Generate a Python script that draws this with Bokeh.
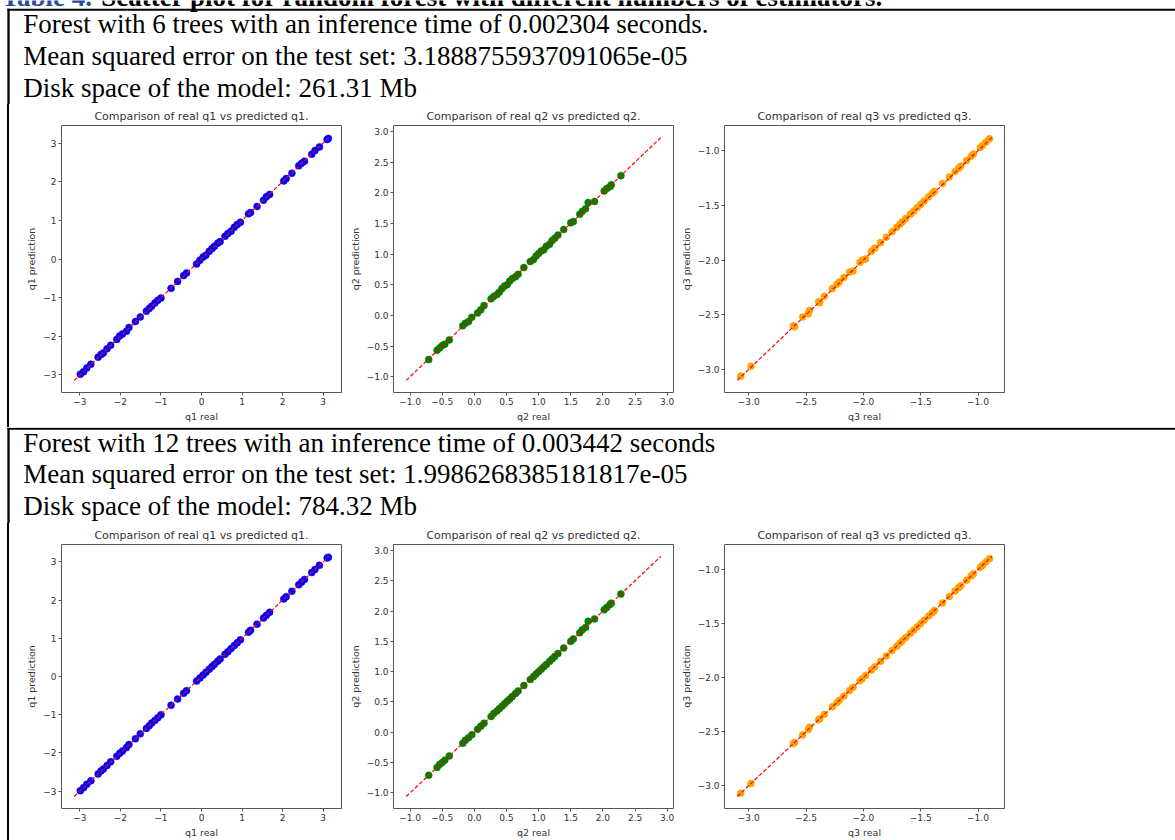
from bokeh.plotting import figure
from bokeh.layouts import column, row
from bokeh.models import Range1d, FixedTicker, CustomJSTickFormatter, Spacer
from bokeh.core.properties import value
from bokeh.embed import file_html
from bokeh.resources import INLINE

# ---------------- data ----------------
caption_label = "Table 4."
caption_text = "Scatter plot for random forest with different numbers of estimators."
row_texts = [
    ["Forest with 6 trees with an inference time of 0.002304 seconds.",
     "Mean squared error on the test set: 3.1888755937091065e-05",
     "Disk space of the model: 261.31 Mb"],
    ["Forest with 12 trees with an inference time of 0.003442 seconds",
     "Mean squared error on the test set: 1.9986268385181817e-05",
     "Disk space of the model: 784.32 Mb"],
]
targets = ["q1", "q2", "q3"]
colors = ["blue", "green", "orange"]

q1_real = [-2.99, -2.91, -2.83, -2.73, -2.55, -2.48, -2.42, -2.33, -2.24, -2.09, -2.02, -1.95,
           -1.85, -1.79, -1.63, -1.51, -1.36, -1.29, -1.23, -1.15, -1.08, -1.00, -0.75, -0.59,
           -0.44, -0.37, -0.12, -0.04, 0.04, 0.11, 0.19, 0.26, 0.32, 0.40, 0.46, 0.58, 0.65,
           0.73, 0.81, 0.88, 0.96, 1.16, 1.21, 1.37, 1.53, 1.60, 1.68, 2.03, 2.09, 2.23, 2.40,
           2.47, 2.54, 2.72, 2.80, 2.91, 3.10, 3.13]
q1_pred_6 = [-2.98, -2.92, -2.82, -2.72, -2.54, -2.47, -2.43, -2.32, -2.23, -2.08, -1.99, -1.94,
             -1.87, -1.77, -1.62, -1.50, -1.35, -1.28, -1.22, -1.14, -1.07, -1.01, -0.76, -0.58,
             -0.43, -0.36, -0.13, -0.03, 0.05, 0.10, 0.20, 0.27, 0.33, 0.41, 0.45, 0.59, 0.66,
             0.72, 0.82, 0.89, 0.95, 1.17, 1.20, 1.36, 1.52, 1.61, 1.67, 2.02, 2.08, 2.22, 2.41,
             2.48, 2.53, 2.71, 2.81, 2.90, 3.09, 3.12]
q1_pred_12 = [-2.99, -2.91, -2.82, -2.73, -2.55, -2.47, -2.42, -2.33, -2.23, -2.09, -2.01, -1.95,
              -1.86, -1.78, -1.63, -1.50, -1.36, -1.29, -1.22, -1.15, -1.08, -1.00, -0.75, -0.59,
              -0.44, -0.37, -0.12, -0.04, 0.04, 0.11, 0.19, 0.26, 0.32, 0.40, 0.46, 0.58, 0.65,
              0.73, 0.81, 0.88, 0.96, 1.16, 1.21, 1.37, 1.53, 1.60, 1.68, 2.03, 2.09, 2.23, 2.40,
              2.47, 2.54, 2.72, 2.80, 2.91, 3.10, 3.12]
q1_line = [-3.14, 3.14]

q2_real = [-0.71, -0.58, -0.54, -0.50, -0.46, -0.39, -0.18, -0.14, -0.09, -0.04, 0.05, 0.10,
           0.15, 0.26, 0.30, 0.35, 0.39, 0.43, 0.47, 0.51, 0.55, 0.59, 0.64, 0.68, 0.77, 0.87,
           0.92, 0.96, 1.00, 1.04, 1.08, 1.12, 1.17, 1.21, 1.25, 1.30, 1.39, 1.50, 1.54, 1.64,
           1.68, 1.73, 1.77, 1.87, 2.02, 2.06, 2.11, 2.13, 2.28]
q2_pred_6 = [-0.72, -0.57, -0.53, -0.49, -0.47, -0.40, -0.17, -0.13, -0.10, -0.03, 0.04, 0.09,
             0.16, 0.27, 0.31, 0.34, 0.38, 0.44, 0.48, 0.50, 0.56, 0.60, 0.63, 0.67, 0.78, 0.88,
             0.91, 0.97, 1.01, 1.05, 1.07, 1.13, 1.16, 1.22, 1.26, 1.31, 1.40, 1.51, 1.53, 1.65,
             1.70, 1.74, 1.84, 1.86, 2.03, 2.07, 2.10, 2.13, 2.28]
q2_pred_12 = [-0.71, -0.58, -0.53, -0.50, -0.46, -0.39, -0.18, -0.13, -0.09, -0.04, 0.05, 0.10,
              0.15, 0.26, 0.31, 0.35, 0.39, 0.43, 0.47, 0.51, 0.55, 0.59, 0.64, 0.68, 0.77, 0.87,
              0.92, 0.96, 1.00, 1.04, 1.08, 1.12, 1.17, 1.21, 1.25, 1.30, 1.39, 1.50, 1.54, 1.64,
              1.69, 1.73, 1.83, 1.87, 2.02, 2.06, 2.11, 2.13, 2.28]
q2_line = [-1.06, 2.90]

q3_real = [-3.07, -2.98, -2.61, -2.60, -2.53, -2.48, -2.47, -2.39, -2.38, -2.34, -2.27, -2.23,
           -2.21, -2.17, -2.12, -2.09, -2.03, -2.01, -1.98, -1.93, -1.90, -1.85, -1.80, -1.75,
           -1.71, -1.68, -1.66, -1.63, -1.59, -1.56, -1.53, -1.50, -1.47, -1.43, -1.40, -1.38,
           -1.31, -1.25, -1.20, -1.17, -1.15, -1.10, -1.06, -1.04, -0.98, -0.96, -0.93, -0.90]
q3_pred_6 = [-3.06, -2.97, -2.60, -2.61, -2.52, -2.49, -2.46, -2.38, -2.39, -2.33, -2.26, -2.22,
             -2.20, -2.16, -2.11, -2.10, -2.02, -2.00, -1.99, -1.92, -1.89, -1.84, -1.79, -1.74,
             -1.70, -1.67, -1.65, -1.62, -1.58, -1.55, -1.52, -1.49, -1.46, -1.42, -1.39, -1.37,
             -1.30, -1.24, -1.19, -1.16, -1.14, -1.09, -1.05, -1.03, -0.97, -0.95, -0.92, -0.89]
q3_pred_12 = [-3.07, -2.98, -2.61, -2.60, -2.53, -2.48, -2.46, -2.39, -2.38, -2.34, -2.27, -2.23,
              -2.21, -2.17, -2.12, -2.09, -2.03, -2.01, -1.98, -1.93, -1.90, -1.85, -1.80, -1.75,
              -1.71, -1.68, -1.66, -1.63, -1.59, -1.56, -1.53, -1.50, -1.47, -1.43, -1.40, -1.38,
              -1.31, -1.25, -1.20, -1.17, -1.15, -1.10, -1.06, -1.04, -0.98, -0.96, -0.93, -0.90]
q3_line = [-3.10, -0.88]

q1_ticks = [-3, -2, -1, 0, 1, 2, 3]
q2_ticks = [-1.0, -0.5, 0.0, 0.5, 1.0, 1.5, 2.0, 2.5, 3.0]
q3_ticks = [-3.0, -2.5, -2.0, -1.5, -1.0]

reals = [q1_real, q2_real, q3_real]
preds = [[q1_pred_6, q2_pred_6, q3_pred_6], [q1_pred_12, q2_pred_12, q3_pred_12]]
lines = [q1_line, q2_line, q3_line]
ticks = [q1_ticks, q2_ticks, q3_ticks]
digits = [0, 1, 1]

# ---------------- layout constants ----------------
W = 1175
SERIF = "Liberation Serif"
SANS = "DejaVu Sans"
BODY_SIZE = "27px"
TEXT_X = 22.7


def blank(width, height):
    p = figure(width=width, height=height, x_range=Range1d(0, width), y_range=Range1d(height, 0),
               x_axis_type=None, y_axis_type=None, min_border=0, output_backend="svg",
               toolbar_location=None)
    p.grid.visible = False
    p.outline_line_color = None
    p.background_fill_color = "white"
    p.border_fill_color = "white"
    return p


def head(height, rule_y, baselines, texts, caption=False):
    p = blank(W, height)
    if caption:
        p.text(x=[1], y=[-4], text=[caption_label], text_font=value(SERIF),
               text_font_size=BODY_SIZE, text_font_style="bold", text_color="#2E4B9B",
               text_baseline="alphabetic")
        p.text(x=[100.8], y=[-4], text=[caption_text], text_font=value(SERIF),
               text_font_size=BODY_SIZE, text_font_style="bold", text_color="black",
               text_baseline="alphabetic")
    p.segment(x0=[7], y0=[rule_y], x1=[W], y1=[rule_y], line_width=2, line_color="black")
    p.segment(x0=[8], y0=[rule_y - 1], x1=[8], y1=[height], line_width=2.3, line_color="black")
    p.text(x=[TEXT_X] * len(texts), y=baselines, text=texts, text_font=value(SERIF),
           text_font_size=BODY_SIZE, text_color="black", text_baseline="alphabetic")
    return p


def sub(k, preds_k, height, mb_left, mb_right, width, mb_bottom):
    name = targets[k]
    lo, hi = lines[k]
    pad = 0.05 * (hi - lo)
    p = figure(width=width, height=height,
               x_range=Range1d(lo - pad, hi + pad), y_range=Range1d(lo - pad, hi + pad),
               min_border_left=mb_left, min_border_right=mb_right,
               min_border_top=19, min_border_bottom=mb_bottom,
               output_backend="svg", toolbar_location=None,
               title=f"Comparison of real {name} vs predicted {name}.")
    p.title.text_font = SANS
    p.title.text_font_size = "11px"
    p.title.text_font_style = "normal"
    p.title.text_color = "#333333"
    p.title.align = "center"
    p.title.standoff = 6
    p.grid.visible = False
    p.outline_line_color = "#555555"
    p.outline_line_width = 1
    p.background_fill_color = "white"
    p.border_fill_color = "white"
    fmt = CustomJSTickFormatter(args=dict(d=digits[k]),
                                code="return tick.toFixed(d).replace('-', '\u2212');")
    for ax in (p.xaxis[0], p.yaxis[0]):
        ax.ticker = FixedTicker(ticks=ticks[k])
        ax.formatter = fmt
        ax.axis_line_color = None
        ax.major_tick_in = 0
        ax.major_tick_out = 3
        ax.major_tick_line_color = "#555555"
        ax.minor_tick_line_color = None
        ax.major_label_text_font = SANS
        ax.major_label_text_font_size = "9px"
        ax.major_label_text_color = "#333333"
        ax.major_label_standoff = 2
        ax.axis_label_text_font = SANS
        ax.axis_label_text_font_size = "9.5px"
        ax.axis_label_text_font_style = "normal"
        ax.axis_label_text_color = "#333333"
        ax.axis_label_standoff = 3
    p.xaxis[0].axis_label = f"{name} real"
    p.yaxis[0].axis_label = f"{name} prediction"
    p.yaxis[0].major_label_orientation = "horizontal"
    p.scatter(x=reals[k], y=preds_k, size=7, marker="circle", fill_color=colors[k],
              line_color=colors[k], line_width=0.5)
    p.line(x=lines[k], y=lines[k], line_color="red", line_width=1.2, line_dash="4 2")
    return p


def plot_row(r, height, mb_bottom):
    f1 = sub(0, preds[r][0], height, 51, 2, 333, mb_bottom)
    f2 = sub(1, preds[r][1], height, 50, 2, 332, mb_bottom)
    f3 = sub(2, preds[r][2], height, 49, 171, 500, mb_bottom)
    gap = Spacer(width=7, height=height, margin=0)
    rule = Spacer(width=2, height=height, margin=0, styles={"background-color": "black"})
    pad = Spacer(width=1, height=height, margin=0)
    return row(gap, rule, pad, f1, f2, f3, spacing=0)


h1 = head(104, 9.2, [23.5, 55.2, 87.0], row_texts[0], caption=True)
r1 = plot_row(0, 323, 35)
h2 = head(96, 1.3, [15.2, 46.9, 78.5], row_texts[1])
r2 = plot_row(1, 317, 29)

page = column(h1, r1, h2, r2, spacing=0)

open("out.html", "w").write(file_html(page, INLINE))
